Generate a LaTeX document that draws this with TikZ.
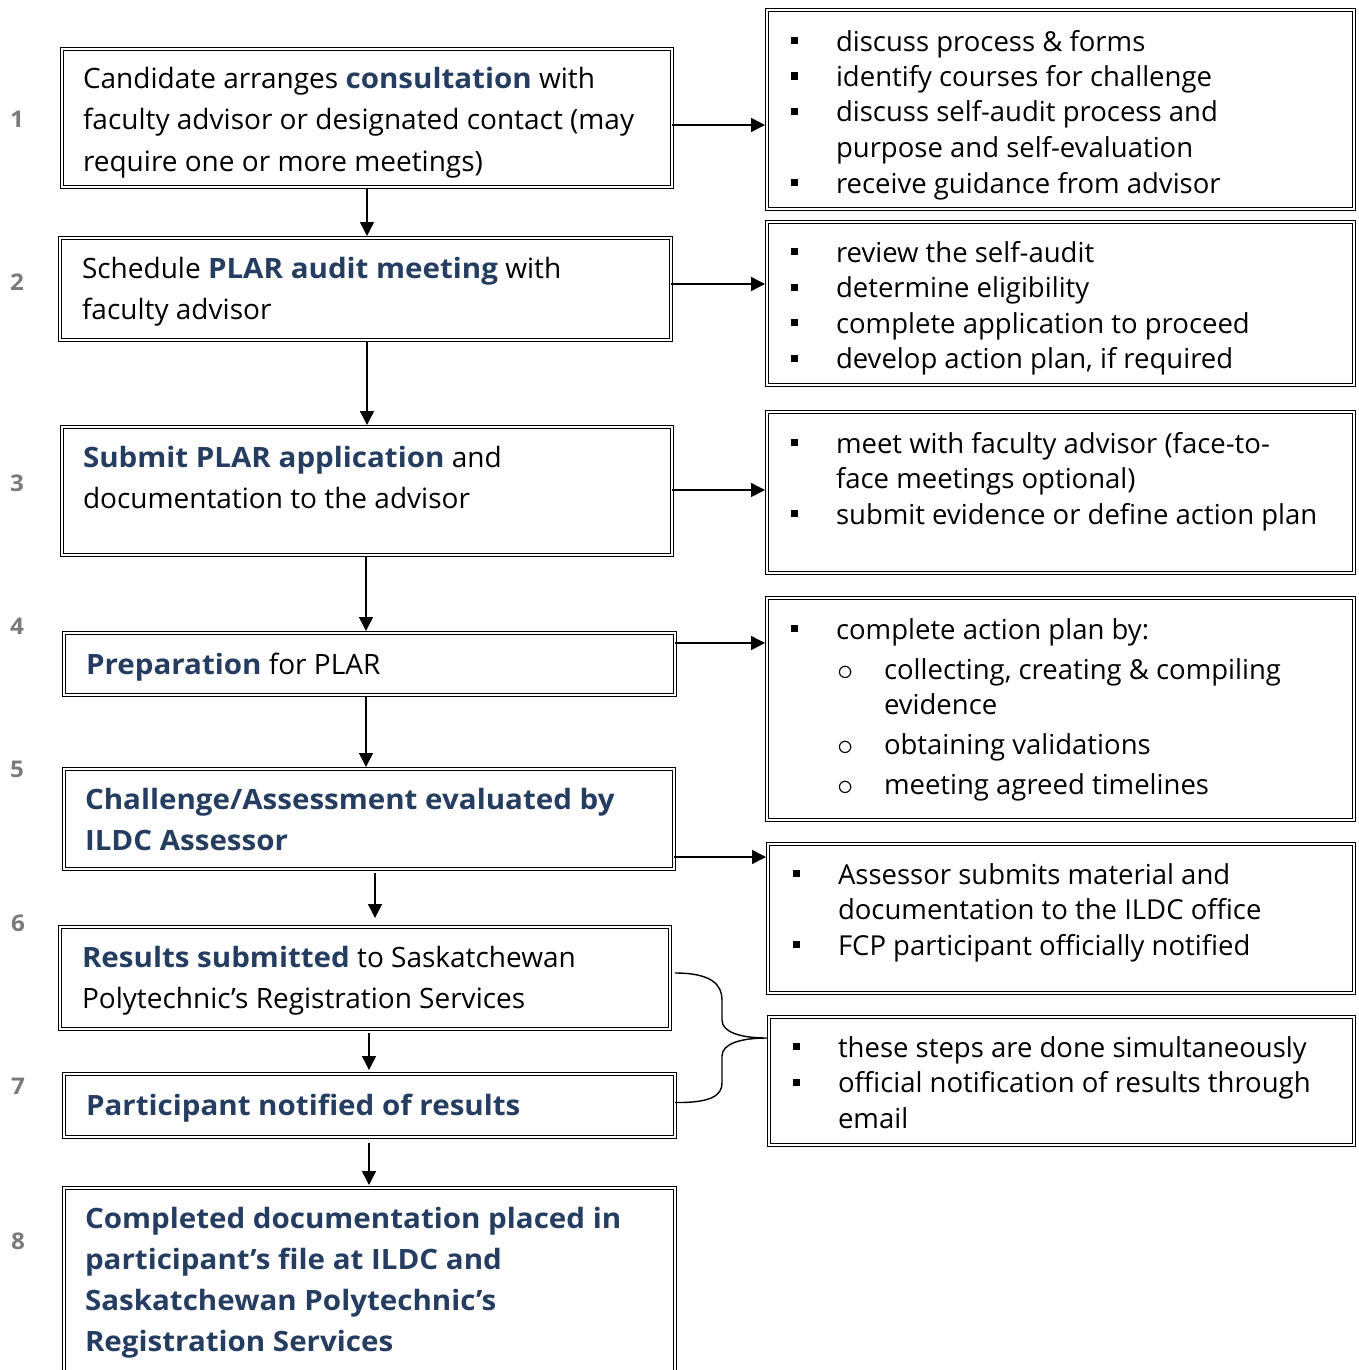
\documentclass[tikz,border=0pt]{standalone}
\usepackage{fontspec}
\setmainfont{Open Sans}[BoldFeatures={FakeStretch=1.055}]
\usepackage{xcolor}
\usepackage{graphicx}
\usetikzlibrary{arrows.meta,calc}
\definecolor{plarblue}{rgb}{0.14,0.24,0.38}
\definecolor{stepgray}{rgb}{0.48,0.48,0.48}
\newcommand{\hl}[1]{{\bfseries\color{plarblue}#1}}
\newcommand{\sqb}{\makebox[45pt][l]{\rule[7pt]{7pt}{7pt}}}
\newcommand{\ind}{\hspace*{45pt}}
\newcommand{\crc}{\makebox[48pt][l]{\hspace{1pt}\raisebox{-1pt}{\scalebox{1.3}{$\circ$}}}}

\begin{document}
\begin{tikzpicture}[x=1pt,y=-1pt,
  >={Triangle[length=14pt,width=14pt]},
  every node/.style={inner sep=0pt,outer sep=0pt},
  stepbox/.style={draw,double,double distance=2.2pt,line width=1.1pt,anchor=north west},
  steptext/.style={anchor=base west,align=left,font=\fontsize{28}{41}\selectfont},
  notetext/.style={anchor=base west,align=left,font=\fontsize{27.5}{35.5}\selectfont},
  num/.style={font=\fontsize{23}{23}\selectfont\bfseries,text=stepgray},
  flow/.style={->,line width=1.5pt,shorten >=2pt}
]
  \useasboundingbox (0,0) rectangle (1358,1370);
  \clip (0,0) rectangle (1358,1370);

  % steps
  \node[stepbox,minimum width=610pt,minimum height=138pt] (s1) at (62,49) {};
  \node[stepbox,minimum width=611pt,minimum height=102pt] (s2) at (60,238) {};
  \node[stepbox,minimum width=610pt,minimum height=128pt] (s3) at (62,427) {};
  \node[stepbox,minimum width=611pt,minimum height=62pt] (s4) at (64,633) {};
  \node[stepbox,minimum width=610pt,minimum height=100pt] (s5) at (64,769) {};
  \node[stepbox,minimum width=610pt,minimum height=102pt] (s6) at (60,927) {};
  \node[stepbox,minimum width=611pt,minimum height=63pt] (s7) at (64,1074) {};
  \node[stepbox,minimum width=611pt,minimum height=210pt] (s8) at (64,1188) {};

  % (base anchor sits on the last line)
  \node[steptext] (t1) at ([shift={(21,122)}]s1.north west)
    {Candidate arranges \hl{consultation} with\\faculty advisor or designated contact (may\\require one or more meetings)};
  \node[steptext] (t2) at ([shift={(22,81)}]s2.north west)
    {Schedule \hl{PLAR audit meeting} with\\faculty advisor};
  \node[steptext] (t3) at ([shift={(21,81)}]s3.north west)
    {\hl{Submit PLAR application} and\\documentation to the advisor};
  \node[steptext] (t4) at ([shift={(22,41)}]s4.north west)
    {\hl{Preparation} for PLAR};
  \node[steptext] (t5) at ([shift={(21,81)}]s5.north west)
    {\hl{Challenge/Assessment evaluated by}\\\hl{ILDC Assessor}};
  \node[steptext] (t6) at ([shift={(22,81)}]s6.north west)
    {\hl{Results submitted} to Saskatchewan\\Polytechnic’s Registration Services};
  \node[steptext] (t7) at ([shift={(22,41)}]s7.north west)
    {\hl{Participant notified of results}};
  \node[steptext] (t8) at ([shift={(21,163)}]s8.north west)
    {\hl{Completed documentation placed in}\\\hl{participant’s file at ILDC and}\\\hl{Saskatchewan Polytechnic’s}\\\hl{Registration Services}};

  % step numbers
  \node[num] (n1) at (17,119) {1};
  \node[num] (n2) at (17,282) {2};
  \node[num] (n3) at (17,483) {3};
  \node[num] (n4) at (17,626) {4};
  \node[num] (n5) at (17,769) {5};
  \node[num] (n6) at (18,923) {6};
  \node[num] (n7) at (18,1086) {7};
  \node[num] (n8) at (18,1241) {8};

  % notes
  \node[stepbox,minimum width=587pt,minimum height=199pt] (r1) at (767,10) {};
  \node[stepbox,minimum width=587pt,minimum height=163pt] (r2) at (767,222) {};
  \node[stepbox,minimum width=587pt,minimum height=161pt] (r3) at (767,412) {};
  \node[stepbox,minimum width=587pt,minimum height=222pt] (r4) at (767,598) {};
  \node[stepbox,minimum width=586pt,minimum height=149pt] (r5) at (768,844) {};
  \node[stepbox,minimum width=585pt,minimum height=128pt] (r6) at (769,1017) {};

  \node[notetext] (u1) at ([shift={(24,183)}]r1.north west)
    {\sqb discuss process \& forms\\\sqb identify courses for challenge\\\sqb discuss self-audit process and\\\ind purpose and self-evaluation\\\sqb receive guidance from advisor};
  \node[notetext] (u2) at ([shift={(24,146.5)}]r2.north west)
    {\sqb review the self-audit\\\sqb determine eligibility\\\sqb complete application to proceed\\\sqb develop action plan, if required};
  \node[notetext] (u3) at ([shift={(24,112)}]r3.north west)
    {\sqb meet with faculty advisor (face-to-\\\ind face meetings optional)\\\sqb submit evidence or define action plan};
  \node[notetext] (u4) at ([shift={(24,196.5)}]r4.north west)
    {\sqb complete action plan by:\\[4.5pt]\ind\crc collecting, creating \& compiling\\\ind\hspace*{48pt}evidence\\[4.5pt]\ind\crc obtaining validations\\[4.5pt]\ind\crc meeting agreed timelines};
  \node[notetext] (u5) at ([shift={(25,111)}]r5.north west)
    {\sqb Assessor submits material and\\\ind documentation to the ILDC office\\\sqb FCP participant officially notified};
  \node[notetext] (u6) at ([shift={(24,111)}]r6.north west)
    {\sqb these steps are done simultaneously\\\sqb official notification of results through\\\ind email};

  % down the steps
  \draw[flow,shorten <=1pt] (s1.south) -- (s1.south |- s2.north);
  \draw[flow,shorten <=1pt] (s2.south -| s1.south) -- (s1.south |- s3.north);
  \draw[flow,shorten <=1pt] (s3.south -| 366,0) -- (s4.north -| 366,0);
  \draw[flow,shorten <=1pt] (s4.south -| 366,0) -- (s5.north -| 366,0);
  \draw[flow,shorten <=4pt,shorten >=9pt] (s5.south -| 375,0) -- (s6.north -| 375,0);
  \draw[flow,shorten <=4pt,shorten >=4pt] (s6.south -| 369,0) -- (s7.north -| 369,0);
  \draw[flow,shorten <=6pt,shorten >=3pt] (s7.south -| 369,0) -- (s8.north -| 369,0);

  % across to the notes
  \draw[flow] (s1.east |- 0,125) -- (r1.west |- 0,125);
  \draw[flow] (s2.east |- 0,284) -- (r2.west |- 0,284);
  \draw[flow] (s3.east |- 0,490) -- (r3.west |- 0,490);
  \draw[flow] (s4.east |- 0,643) -- (r4.west |- 0,643);
  \draw[flow] (s5.east |- 0,857) -- (r5.west |- 0,857);

  % brace joining steps 6 and 7
  \coordinate (jtop) at ($(s6.east)+(5,-5)$);
  \coordinate (jbot) at ($(s7.east)+(0,-3)$);
  \coordinate (jtip) at ($(r6.west |- 0,1038)+(-2,0)$);
  \draw[line width=1.4pt] (jtop) .. controls (712,973) and (722,985) .. (722,1000) -- (722,1020)
    .. controls (722,1032) and (740,1038) .. (jtip)
    .. controls (740,1038) and (722,1044) .. (722,1056) -- (722,1083)
    .. controls (722,1095) and (712,1103) .. (jbot);
\end{tikzpicture}
\end{document}
